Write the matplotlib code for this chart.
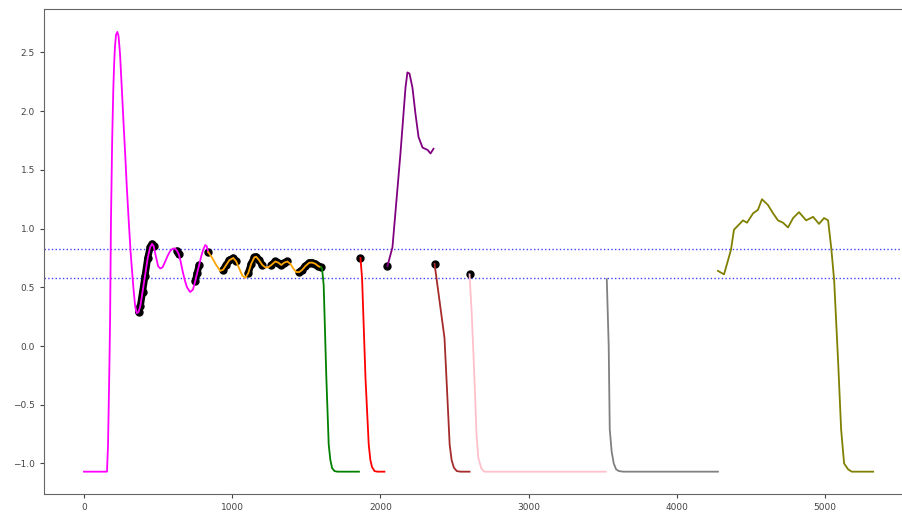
"""
plot.py

segments of a response curve, black marks on the picked-out stretches,
two dotted blue threshold lines
"""

import numpy as np
import matplotlib
matplotlib.use('Agg')
import matplotlib.pyplot as plt

# ---- data ----
magenta_x = [0, 155, 162, 171, 176, 182, 190, 198, 204, 209, 216, 225, 233, 243, 254,
             266, 278, 289, 302, 315, 333, 345, 356, 368, 380, 395, 412, 430, 446, 459,
             470, 482, 500, 515, 530, 548, 565, 582, 600, 615, 628, 640, 652, 665, 680,
             695, 716, 735, 750, 763, 777, 790, 804, 818, 828, 838]
magenta_y = [-1.07, -1.07, -0.85, -0.2, 0.22, 1.07, 1.75, 2.2, 2.42, 2.55, 2.65, 2.675,
             2.64, 2.49, 2.22, 1.92, 1.63, 1.35, 1.06, 0.79, 0.50, 0.34, 0.28, 0.29,
             0.34, 0.46, 0.6, 0.75, 0.84, 0.87, 0.85, 0.78, 0.68, 0.66, 0.67, 0.72, 0.77,
             0.81, 0.83, 0.83, 0.81, 0.78, 0.72, 0.64, 0.56, 0.5, 0.46, 0.48, 0.55, 0.62,
             0.69, 0.76, 0.82, 0.86, 0.85, 0.80]

orange_x = [838, 865, 892, 919, 939, 959, 980, 1007, 1027, 1047, 1068, 1088, 1108, 1128,
            1149, 1162, 1182, 1203, 1223, 1243, 1264, 1291, 1311, 1331, 1351, 1372, 1392,
            1412, 1432, 1453, 1473, 1493, 1520, 1541, 1561, 1581, 1598]
orange_y = [0.80, 0.75, 0.69, 0.64, 0.65, 0.69, 0.73, 0.75, 0.72, 0.66, 0.60, 0.58, 0.62,
            0.70, 0.755, 0.76, 0.73, 0.69, 0.67, 0.67, 0.69, 0.72, 0.71, 0.69, 0.71, 0.72,
            0.70, 0.66, 0.63, 0.63, 0.65, 0.68, 0.71, 0.71, 0.70, 0.68, 0.67]

green_x = [1598, 1606, 1617, 1635, 1651, 1662, 1674, 1690, 1710, 1855]
green_y = [0.67, 0.66, 0.52, -0.27, -0.84, -0.97, -1.04, -1.065, -1.07, -1.07]

red_x = [1865, 1876, 1899, 1921, 1932, 1943, 1960, 1980, 2027]
red_y = [0.75, 0.58, -0.27, -0.84, -0.97, -1.03, -1.065, -1.07, -1.07]

purple_x = [2047, 2081, 2135, 2169, 2182, 2196, 2216, 2236, 2257, 2284, 2318, 2338, 2358]
purple_y = [0.68, 0.84, 1.64, 2.20, 2.33, 2.32, 2.20, 1.98, 1.78, 1.69, 1.67, 1.64, 1.68]

brown_x = [2365, 2380, 2432, 2446, 2467, 2480, 2495, 2515, 2540, 2601]
brown_y = [0.70, 0.56, 0.07, -0.29, -0.84, -0.97, -1.035, -1.065, -1.07, -1.07]

pink_x = [2601, 2615, 2625, 2635, 2648, 2660, 2680, 2700, 3520]
pink_y = [0.61, 0.3, 0.0, -0.3, -0.75, -0.95, -1.04, -1.07, -1.07]

gray_x = [3527, 3540, 3547, 3560, 3574, 3590, 3608, 3640, 4277]
gray_y = [0.57, 0.0, -0.71, -0.9, -1.0, -1.05, -1.065, -1.07, -1.07]

olive_x = [4277, 4318, 4365, 4385, 4446, 4473, 4514, 4547, 4574, 4615, 4649, 4682, 4716,
           4750, 4784, 4824, 4872, 4919, 4959, 4993, 5020, 5041, 5061, 5088, 5108, 5128,
           5155, 5180, 5324]
olive_y = [0.64, 0.61, 0.82, 0.99, 1.07, 1.05, 1.13, 1.16, 1.25, 1.20, 1.13, 1.07, 1.05,
           1.01, 1.09, 1.14, 1.07, 1.10, 1.04, 1.09, 1.07, 0.84, 0.56, -0.14, -0.71, -1.0,
           -1.05, -1.07, -1.07]

# picked-out stretches (x ranges) drawn as thick black marks
magenta_marks = [(368, 470), (628, 645), (750, 780)]
orange_marks = [(838, 838), (935, 1040), (1100, 1215), (1250, 1385), (1445, 1590)]

# start points of the later segments
start_x = [1598, 1865, 2047, 2365, 2601]
start_y = [0.67, 0.75, 0.68, 0.70, 0.61]

thresholds = [0.826, 0.579]


def draw_marks(ax, xs, ys, ranges):
    '''thick black band over the curve vertices inside each x range'''
    xs = np.asarray(xs)
    ys = np.asarray(ys)
    for lo, hi in ranges:
        m = (xs >= lo) & (xs <= hi)
        ax.plot(xs[m], ys[m], color='black', lw=5, marker='o', ms=5,
                solid_capstyle='round', solid_joinstyle='round', zorder=2)


fig = plt.figure(figsize=(9.03, 5.12), dpi=100)
ax = fig.add_axes([0.0487, 0.0352, 0.955, 0.9472])

draw_marks(ax, magenta_x, magenta_y, magenta_marks)
draw_marks(ax, orange_x, orange_y, orange_marks)
ax.plot(start_x, start_y, 'o', color='black', ms=5, zorder=2)

lw = 1.3
ax.plot(magenta_x, magenta_y, color='magenta', lw=lw, zorder=3)
ax.plot(orange_x, orange_y, color='orange', lw=lw, zorder=3)
ax.plot(green_x, green_y, color='green', lw=lw, zorder=3)
ax.plot(red_x, red_y, color='red', lw=lw, zorder=3)
ax.plot(purple_x, purple_y, color='purple', lw=lw, zorder=3)
ax.plot(brown_x, brown_y, color='brown', lw=lw, zorder=3)
ax.plot(pink_x, pink_y, color='pink', lw=lw, zorder=3)
ax.plot(gray_x, gray_y, color='gray', lw=lw, zorder=3)
ax.plot(olive_x, olive_y, color='olive', lw=lw, zorder=3)

for t in thresholds:
    ax.axhline(t, color='blue', ls=':', lw=1.0, alpha=0.75, zorder=1)

ax.set_xlim(-270, 5548)
ax.set_ylim(-1.26, 2.87)
ax.set_xticks([0, 1000, 2000, 3000, 4000, 5000])
ax.set_yticks([-1.0, -0.5, 0.0, 0.5, 1.0, 1.5, 2.0, 2.5])
ax.tick_params(labelsize=6.5, colors='#444444', length=3)
for s in ax.spines.values():
    s.set_color('#666666')

fig.savefig('out.png', dpi=100)
